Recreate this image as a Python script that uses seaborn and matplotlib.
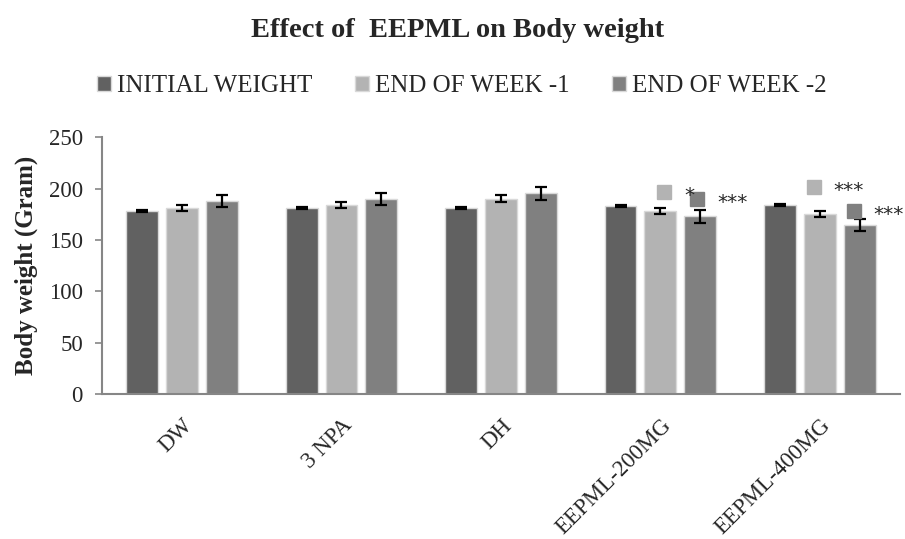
import matplotlib
matplotlib.use("Agg")
import matplotlib.pyplot as plt
import matplotlib.transforms as mtrans
import pandas as pd
import seaborn as sns

groups = ["DW", "3 NPA", "DH", "EEPML-200MG", "EEPML-400MG"]
series = ["INITIAL WEIGHT", "END OF WEEK -1", "END OF WEEK -2"]
initial = [178.5, 181.5, 181.5, 183.5, 184.5]
week1 = [181.5, 184.5, 190.5, 178.0, 175.0]
week2 = [188.0, 190.0, 195.5, 173.0, 165.0]
err_initial = [1, 1, 1, 1, 1]
err_week1 = [3, 3, 3, 3, 3]
err_week2 = [6, 6, 6, 6, 6]
# significance marks: (group, series, stars)
marks = [("EEPML-200MG", "END OF WEEK -1", "*"),
         ("EEPML-200MG", "END OF WEEK -2", "***"),
         ("EEPML-400MG", "END OF WEEK -1", "***"),
         ("EEPML-400MG", "END OF WEEK -2", "***")]

colors = ["#616161", "#b3b3b3", "#808080"]

df = pd.DataFrame({
    "group": groups * 3,
    "series": [s for s in series for _ in groups],
    "weight": initial + week1 + week2,
    "err": err_initial + err_week1 + err_week2,
})

sns.set_style("white")
plt.rcParams["font.family"] = ["Liberation Serif", "DejaVu Serif"]

fig = plt.figure(figsize=(9.05, 5.39), dpi=100)
ax = fig.add_axes([0.113, 0.269, 0.881, 0.476])

sns.barplot(data=df, x="group", y="weight", hue="series", order=groups,
            hue_order=series, palette=colors, width=0.75, gap=0.2,
            edgecolor="#d9d9d9", linewidth=1, errorbar=None, ax=ax)

# error bars
for cont, s in zip(ax.containers, series):
    sub = df[df["series"] == s].set_index("group").loc[groups]
    xs = [p.get_x() + p.get_width() / 2 for p in cont.patches]
    ax.errorbar(xs, sub["weight"], yerr=sub["err"], fmt="none",
                ecolor="black", elinewidth=1.6, capsize=4.3, capthick=1.6)


def px(dx, dy):
    # shift in screen pixels (up is positive)
    return ax.transData + mtrans.ScaledTranslation(dx / 100, dy / 100,
                                                   fig.dpi_scale_trans)


# significance markers (square key + stars), pixel offsets from bar top
offs = {("EEPML-200MG", "END OF WEEK -1"): (4, 19),
        ("EEPML-200MG", "END OF WEEK -2"): (-3, 17),
        ("EEPML-400MG", "END OF WEEK -1"): (-6, 27),
        ("EEPML-400MG", "END OF WEEK -2"): (-6, 14)}
for g, s, stars in marks:
    si = series.index(s)
    gi = groups.index(g)
    p = ax.containers[si].patches[gi]
    x = p.get_x() + p.get_width() / 2
    y = p.get_height()
    dx, dy = offs[(g, s)]
    ax.plot([x], [y], marker="s", markersize=10.5, color=colors[si],
            transform=px(dx, dy), clip_on=False)
    ax.text(x, y, stars, fontsize=14.5, family="DejaVu Sans", va="baseline",
            ha="left", transform=px(dx + 20, dy - 9), clip_on=False)

ax.set_ylim(0, 250)
ax.set_yticks(range(0, 251, 50))
ax.set_xlim(-0.5, len(groups) - 0.5)
ax.set_xlabel("")
ax.set_ylabel("Body weight (Gram)", fontsize=18, fontweight="bold")
ax.yaxis.set_label_coords(-0.081, 0.5)
ax.tick_params(axis="y", labelsize=16.5, length=5, width=1.2, color="#868686",
               left=True, pad=9)
ax.tick_params(axis="x", labelsize=16.5, length=0, pad=15)
plt.setp(ax.get_xticklabels(), rotation=45, ha="right", rotation_mode="anchor")
for side in ["top", "right"]:
    ax.spines[side].set_visible(False)
for side in ["left", "bottom"]:
    ax.spines[side].set_color("#868686")
    ax.spines[side].set_linewidth(1.5)

ax.legend(loc="center", bbox_to_anchor=(462 / 905, 1 - 86 / 539),
          bbox_transform=fig.transFigure, ncol=3, frameon=False,
          fontsize=18, handlelength=0.55, handleheight=0.55, handletextpad=0.25,
          columnspacing=1.7)
fig.suptitle("Effect of  EEPML on Body weight", fontsize=20.5, fontweight="bold",
             x=0.506, y=0.966)

fig.savefig("out.png", dpi=100)
